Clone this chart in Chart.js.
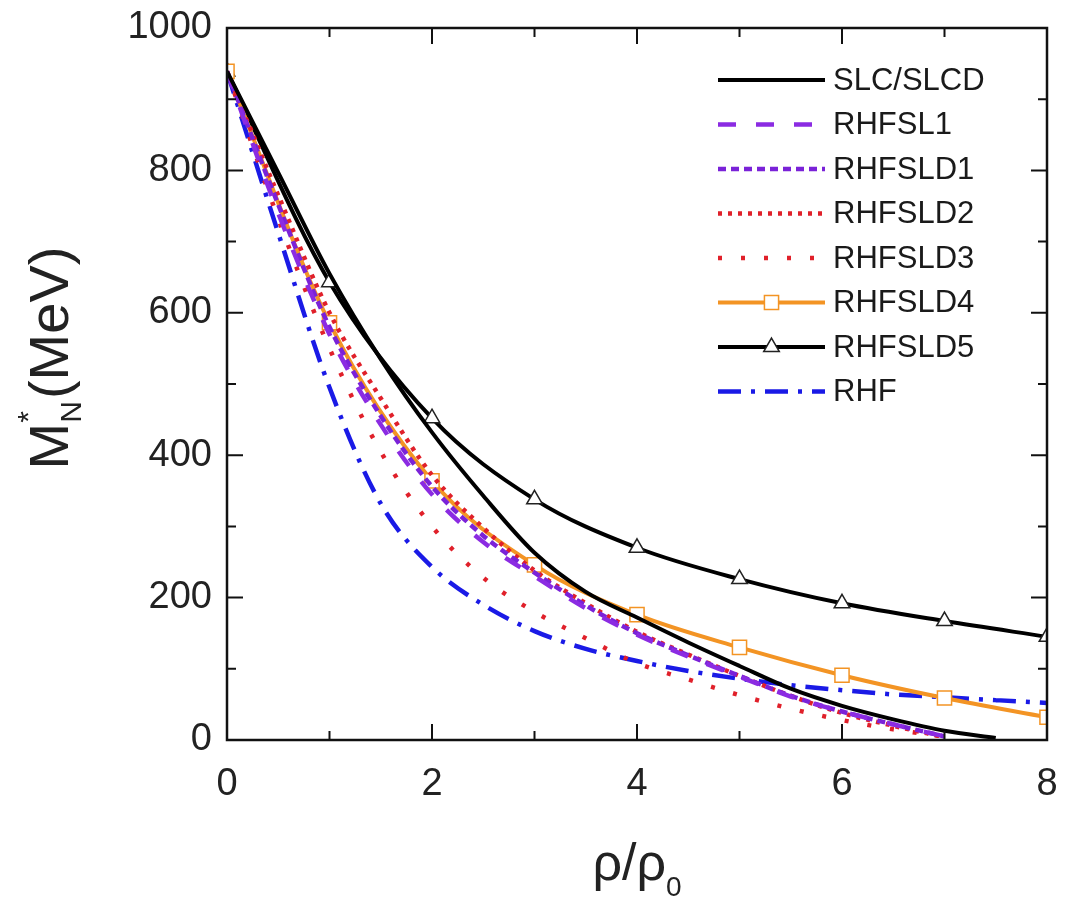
<!DOCTYPE html>
<html>
<head>
<meta charset="utf-8">
<script src="https://cdn.jsdelivr.net/npm/chart.js@4/dist/chart.umd.min.js"></script>
<style>
  html, body { margin: 0; padding: 0; background: #fff; }
  #chart { display: block; }
</style>
</head>
<body>
<canvas id="chart" width="1088" height="902"></canvas>
<script>
// density grid (rho/rho0) for the curves without markers
const xFine = [0, 0.5, 1, 1.5, 2, 2.5, 3, 3.5, 4, 4.5, 5, 5.5, 6, 6.5, 7, 7.5, 8];
// marker curves are sampled at integer densities
const xInt = [0, 1, 2, 3, 4, 5, 6, 7, 8];

// M*_N (MeV)
const slc     = [939, 797, 655, 535, 432, 343, 263, 208, 172, 137, 104, 72, 48, 29, 13, 3, null];
const rhfsl1  = [939, 740, 570, 443, 345, 278, 230, 185, 148, 117, 89, 61, 40, 22, 5, null, null];
const rhfsld1 = [939, 752, 580, 455, 356, 287, 235, 189, 150, 119, 90, 62, 40, 22, 5, null, null];
const rhfsld2 = [939, 765, 600, 480, 372, 298, 238, 192, 152, 120, 90, 62, 38, 20, 4, null, null];
const rhfsld3 = [939, 732, 550, 405, 300, 228, 180, 143, 108, 85, 63, 44, 28, 15, 5, null, null];
const rhfsld4 = [939, 586, 364, 246, 176, 130, 91, 59, 32];
const rhfsld5 = [939, 643, 452, 338, 270, 226, 192, 167, 145];
const rhf     = [939, 712, 495, 332, 243, 190, 153, 128, 111, 97, 86, 77, 70, 64, 60, 56, 52];

const xTicks = [0, 2, 4, 6, 8];
const yTicks = [0, 200, 400, 600, 800, 1000];

function pts(xs, ys) {
  return xs.map((x, i) => ({x: x, y: ys[i]}));
}

const FONT = '"Liberation Sans", Arial, sans-serif';

// ticks pointing inwards on all four sides, plus the frame
const frameTicks = {
  id: 'frameTicks',
  afterDatasetsDraw(chart) {
    const ctx = chart.ctx;
    const a = chart.chartArea;
    const xs = chart.scales.x;
    const ys = chart.scales.y;
    ctx.save();
    ctx.strokeStyle = '#111';
    ctx.lineWidth = 2.5;
    ctx.setLineDash([]);
    ctx.strokeRect(a.left, a.top, a.right - a.left, a.bottom - a.top);
    ctx.lineWidth = 2;
    for (let v = 0; v <= 8; v++) {
      const len = v % 2 === 0 ? 16 : 9;
      const px = xs.getPixelForValue(v);
      ctx.beginPath();
      ctx.moveTo(px, a.bottom); ctx.lineTo(px, a.bottom - len);
      ctx.moveTo(px, a.top); ctx.lineTo(px, a.top + len);
      ctx.stroke();
    }
    for (let v = 0; v <= 1000; v += 100) {
      const len = v % 200 === 0 ? 16 : 9;
      const py = ys.getPixelForValue(v);
      ctx.beginPath();
      ctx.moveTo(a.left, py); ctx.lineTo(a.left + len, py);
      ctx.moveTo(a.right, py); ctx.lineTo(a.right - len, py);
      ctx.stroke();
    }
    ctx.restore();
  }
};

// axis titles with sub/superscripts
const axisTitles = {
  id: 'axisTitles',
  afterDraw(chart) {
    const ctx = chart.ctx;
    const a = chart.chartArea;
    ctx.save();
    ctx.fillStyle = '#222';
    ctx.textBaseline = 'alphabetic';

    // y title: M*_N(MeV)
    const big = '56px ' + FONT;
    const small = '30px ' + FONT;
    ctx.font = big;
    const wM = ctx.measureText('M').width;
    const wRest = ctx.measureText('(MeV)').width;
    ctx.font = small;
    const wN = ctx.measureText('N').width;
    const total = wM + wN + 2 + wRest;
    ctx.translate(68, 358);
    ctx.rotate(-Math.PI / 2);
    let x = -total / 2;
    ctx.font = big;
    ctx.textAlign = 'left';
    ctx.fillText('M', x, 0);
    x += wM;
    ctx.font = small;
    ctx.fillText('*', x, -30);
    ctx.fillText('N', x, 13);
    x += wN + 2;
    ctx.font = big;
    ctx.fillText('(MeV)', x, 0);
    ctx.restore();

    // x title: rho/rho_0
    ctx.save();
    ctx.fillStyle = '#222';
    ctx.font = '52px ' + FONT;
    const w1 = ctx.measureText('ρ/ρ').width;
    ctx.font = '28px ' + FONT;
    const w0 = ctx.measureText('0').width;
    const cx = (a.left + a.right) / 2;
    let sx = cx - (w1 + w0) / 2;
    ctx.textAlign = 'left';
    ctx.font = '52px ' + FONT;
    ctx.fillText('ρ/ρ', sx, 880);
    ctx.font = '28px ' + FONT;
    ctx.fillText('0', sx + w1, 896);
    ctx.restore();
  }
};

// legend: line sample with marker in the middle
const lineLegend = {
  id: 'lineLegend',
  afterDraw(chart) {
    const ctx = chart.ctx;
    const x0 = 718, x1 = 825, tx = 833;
    let y = 80;
    chart.data.datasets.forEach(ds => {
      ctx.save();
      ctx.strokeStyle = ds.borderColor;
      ctx.lineWidth = ds.borderWidth;
      ctx.setLineDash(ds.borderDash || []);
      ctx.lineCap = ds.borderCapStyle || 'butt';
      ctx.beginPath();
      ctx.moveTo(x0, y);
      ctx.lineTo(x1, y);
      ctx.stroke();
      ctx.setLineDash([]);
      if (ds.pointRadius > 0) {
        ctx.fillStyle = ds.pointBackgroundColor;
        ctx.strokeStyle = ds.pointBorderColor;
        ctx.lineWidth = ds.pointBorderWidth;
        Chart.helpers.drawPoint(ctx, {
          pointStyle: ds.pointStyle,
          radius: ds.pointRadius,
          rotation: 0,
          borderWidth: ds.pointBorderWidth
        }, (x0 + x1) / 2, y);
      }
      ctx.fillStyle = '#1a1a1a';
      ctx.font = '31px ' + FONT;
      ctx.textBaseline = 'middle';
      ctx.textAlign = 'left';
      ctx.fillText(ds.label, tx, y + 1);
      ctx.restore();
      y += 44.5;
    });
  }
};

function plain(label, xs, ys, color, width, dash, cap) {
  return {
    label: label,
    data: pts(xs, ys),
    borderColor: color,
    borderWidth: width,
    borderDash: dash,
    borderCapStyle: cap || 'butt',
    pointRadius: 0,
    fill: false,
    spanGaps: false
  };
}

function marked(label, xs, ys, color, style, radius) {
  return {
    label: label,
    data: pts(xs, ys),
    borderColor: color,
    borderWidth: 4,
    borderDash: [],
    pointStyle: style,
    pointRadius: radius,
    pointBorderWidth: 1.5,
    pointBorderColor: color === '#000000' ? '#222' : color,
    pointBackgroundColor: '#ffffff',
    fill: false
  };
}

const datasets = [
  plain('SLC/SLCD', xFine, slc, '#000000', 4, []),
  plain('RHFSL1', xFine, rhfsl1, '#8b2be2', 4.5, [18, 20]),
  plain('RHFSLD1', xFine, rhfsld1, '#7a22d8', 4.5, [8, 5]),
  plain('RHFSLD2', xFine, rhfsld2, '#e0202a', 4.5, [4, 6]),
  plain('RHFSLD3', xFine, rhfsld3, '#e0202a', 4.5, [4, 19]),
  marked('RHFSLD4', xInt, rhfsld4, '#f39424', 'rect', 10),
  marked('RHFSLD5', xInt, rhfsld5, '#000000', 'triangle', 9),
  plain('RHF', xFine, rhf, '#1a1ae6', 4.5, [23, 10, 4, 10])
];

// keep the plot box where the reference has it
function noPad(s) {
  s.paddingTop = 0;
  s.paddingBottom = 0;
  s.paddingLeft = 0;
  s.paddingRight = 0;
}

new Chart(document.getElementById('chart'), {
  type: 'line',
  data: {datasets: datasets},
  options: {
    responsive: false,
    animation: false,
    devicePixelRatio: 1,
    layout: {padding: {left: 0, top: 28, right: 41, bottom: 0}},
    elements: {line: {cubicInterpolationMode: 'monotone'}},
    plugins: {legend: {display: false}, tooltip: {enabled: false}},
    scales: {
      x: {
        type: 'linear',
        min: 0,
        max: 8,
        afterFit: s => { s.height = 162; noPad(s); },
        afterBuildTicks: s => { s.ticks = xTicks.map(v => ({value: v})); },
        grid: {display: false, drawTicks: false},
        border: {display: false},
        ticks: {font: {size: 38, family: FONT}, color: '#222', padding: 22,
                callback: v => String(v)}
      },
      y: {
        type: 'linear',
        min: 0,
        max: 1000,
        afterFit: s => { s.width = 227; noPad(s); },
        afterBuildTicks: s => { s.ticks = yTicks.map(v => ({value: v})); },
        grid: {display: false, drawTicks: false},
        border: {display: false},
        ticks: {font: {size: 38, family: FONT}, color: '#222', padding: 15,
                callback: v => String(v)}
      }
    }
  },
  plugins: [frameTicks, axisTitles, lineLegend]
});
</script>
</body>
</html>
